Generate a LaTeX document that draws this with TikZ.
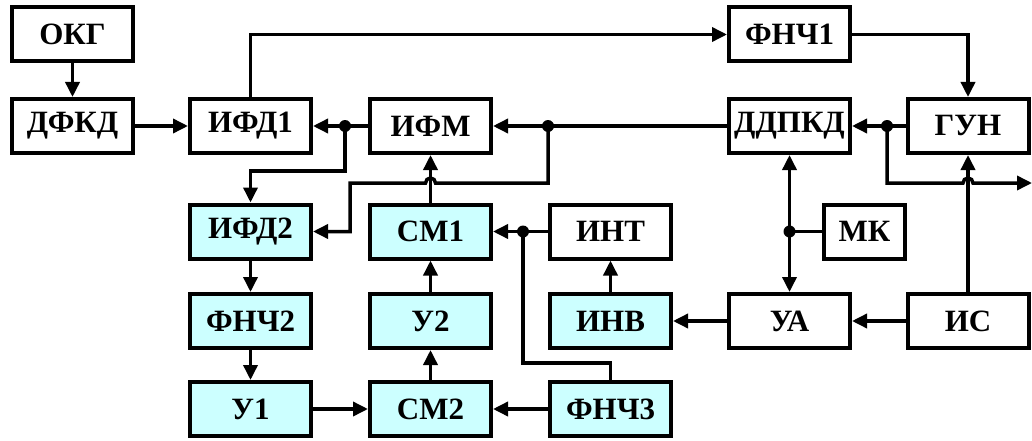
\documentclass[tikz,border=0pt]{standalone}
\usepackage{fontspec}
\setmainfont{Liberation Serif}
\usetikzlibrary{arrows.meta}
\definecolor{cy}{HTML}{CCFFFF}
\begin{document}
\begin{tikzpicture}[x=1pt,y=-1pt,
  blk/.style={draw, line width=4pt, minimum width=121pt, minimum height=54pt, inner sep=0pt,
    font=\fontsize{31}{31}\selectfont\bfseries, fill=white},
  cblk/.style={blk, fill=cy},
  conn/.style={line width=3.5pt},
  arr/.style={conn, -{Triangle[length=15pt,width=14pt]}},
  jdot/.style={fill=black}]
\useasboundingbox (0,0) rectangle (1032,441);
% nodes
\node[blk] (okg) at (72.5,34.5) {ОКГ};
\node[blk] (dfkd) at (72.5,126) {ДФКД};
\node[blk] (ifd1) at (250.5,126) {ИФД1};
\node[blk] (ifm) at (430.5,126) {ИФМ};
\node[blk] (fnch1) at (789.5,34.5) {ФНЧ1};
\node[blk] (ddpkd) at (789.5,126) {ДДПКД};
\node[blk] (gun) at (968,126) {ГУН};
\node[cblk] (ifd2) at (250.5,231.5) {ИФД2};
\node[cblk] (sm1) at (430.5,231.5) {СМ1};
\node[blk] (int) at (610.5,231.5) {ИНТ};
\node[blk, minimum width=81pt] (mk) at (864.5,231.5) {МК};
\node[cblk] (fnch2) at (250.5,321) {ФНЧ2};
\node[cblk] (u2) at (430.5,321) {У2};
\node[cblk] (inv) at (610.5,321) {ИНВ};
\node[blk] (ua) at (789.5,321) {УА};
\node[blk] (is) at (968,321) {ИС};
\node[cblk] (u1) at (250.5,409) {У1};
\node[cblk] (sm2) at (430.5,409) {СМ2};
\node[cblk] (fnch3) at (610.5,409) {ФНЧ3};
% junctions
\coordinate (d1) at (887,126);
\coordinate (d2) at (548,126);
\coordinate (d3) at (345,126);
\coordinate (d4) at (523,231.5);
\coordinate (d5) at (789.5,231.5);
\coordinate (out) at (1032,183);
% connectors
\draw[arr] (okg.south) -- (dfkd.north);
\draw[arr] (dfkd.east) -- (ifd1.west);
\draw[arr] (ifd1.north) |- (fnch1.west);
\draw[arr] (fnch1.east) -| (gun.north);
\draw[arr] (gun.west) -- (ddpkd.east);
\draw[arr] (d1) -- (887,183) -- (963,183) arc[start angle=180,end angle=0,radius=5pt] -- (out);
\draw[arr] (ddpkd.west) -- (ifm.east);
\draw[arr] (d2) -- (548,183) -- (435.5,183) arc[start angle=0,end angle=180,radius=5pt] -- (350,183) |- (ifd2.east);
\draw[arr] (ifm.west) -- (ifd1.east);
\draw[arr] (d3) -- (345,171) -| (ifd2.north);
\draw[arr] (sm1.north) -- (ifm.south);
\draw[arr] (int.west) -- (sm1.east);
\draw[conn] (fnch3.north) -- (610.5,363) -| (d4);
\draw[arr] (inv.north) -- (int.south);
\draw[arr] (ua.west) -- (inv.east);
\draw[arr] (fnch3.west) -- (sm2.east);
\draw[arr] (ifd2.south) -- (fnch2.north);
\draw[arr] (fnch2.south) -- (u1.north);
\draw[arr] (u1.east) -- (sm2.west);
\draw[arr] (sm2.north) -- (u2.south);
\draw[arr] (u2.north) -- (sm1.south);
\draw[arr] (is.west) -- (ua.east);
\draw[arr] (is.north) -- (gun.south);
\draw[conn] (mk.west) -- (d5);
\draw[arr] (d5) -- (ddpkd.south);
\draw[arr] (d5) -- (ua.north);
% dots
\foreach \d in {d1,d2,d3,d4,d5} \fill[jdot] (\d) circle (6pt);
\end{tikzpicture}
\end{document}
